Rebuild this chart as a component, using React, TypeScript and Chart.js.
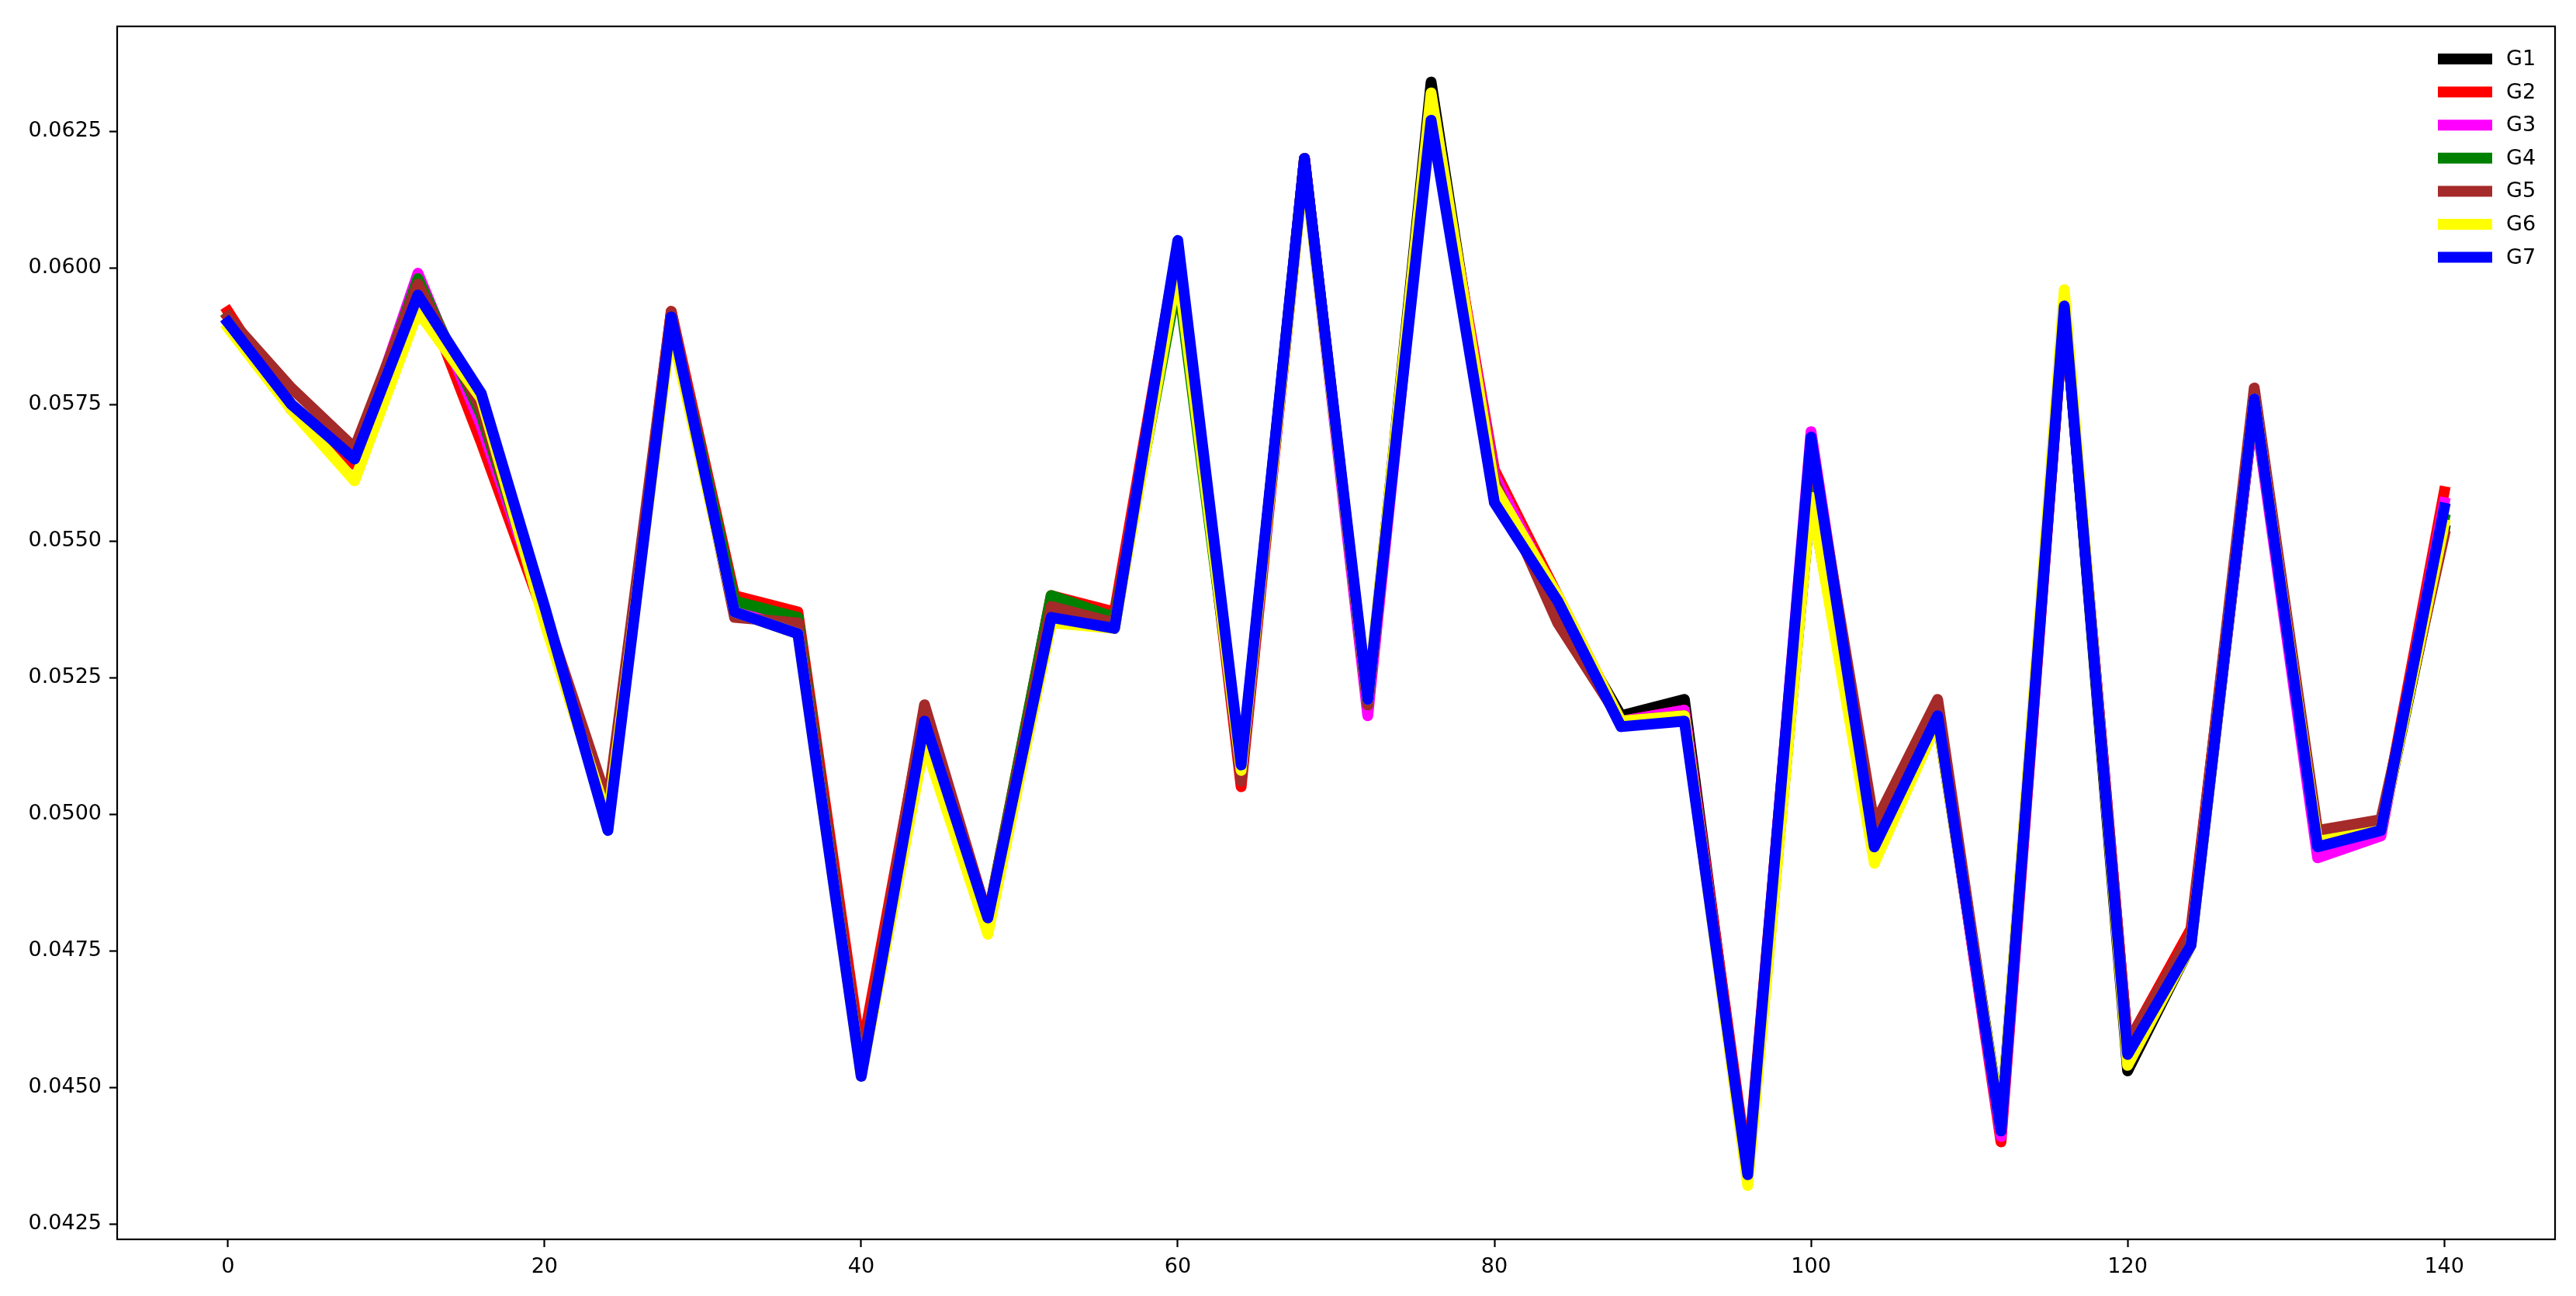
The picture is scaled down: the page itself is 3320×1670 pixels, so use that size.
import React, { useEffect, useRef } from "react";
import { Chart, registerables } from "chart.js";

Chart.register(...registerables);

const xValues = [0, 4, 8, 12, 16, 20, 24, 28, 32, 36, 40, 44, 48, 52, 56, 60, 64, 68, 72, 76, 80, 84, 88, 92, 96, 100, 104, 108, 112, 116, 120, 124, 128, 132, 136, 140];

const g1 = [0.0590, 0.0575, 0.0564, 0.0596, 0.0575, 0.0537, 0.0499, 0.0591, 0.0537, 0.0534, 0.0453, 0.0516, 0.0480, 0.0536, 0.0534, 0.0603, 0.0508, 0.0620, 0.0520, 0.0634, 0.0559, 0.0538, 0.0518, 0.0521, 0.0433, 0.0558, 0.0493, 0.0517, 0.0443, 0.0594, 0.0453, 0.0476, 0.0575, 0.0495, 0.0497, 0.0552];
const g2 = [0.0592, 0.0574, 0.0564, 0.0598, 0.0568, 0.0536, 0.0500, 0.0592, 0.0540, 0.0537, 0.0456, 0.0519, 0.0481, 0.0540, 0.0537, 0.0604, 0.0505, 0.0620, 0.0520, 0.0630, 0.0563, 0.0540, 0.0517, 0.0519, 0.0435, 0.0568, 0.0495, 0.0519, 0.0440, 0.0593, 0.0458, 0.0479, 0.0576, 0.0494, 0.0497, 0.0559];
const g3 = [0.0590, 0.0575, 0.0565, 0.0599, 0.0571, 0.0537, 0.0499, 0.0591, 0.0537, 0.0534, 0.0453, 0.0517, 0.0481, 0.0537, 0.0535, 0.0604, 0.0507, 0.0620, 0.0518, 0.0630, 0.0562, 0.0539, 0.0517, 0.0519, 0.0433, 0.0570, 0.0494, 0.0518, 0.0441, 0.0593, 0.0458, 0.0477, 0.0575, 0.0492, 0.0496, 0.0557];
const g4 = [0.0591, 0.0575, 0.0565, 0.0598, 0.0573, 0.0537, 0.0500, 0.0591, 0.0539, 0.0536, 0.0453, 0.0517, 0.0481, 0.0540, 0.0536, 0.0598, 0.0508, 0.0620, 0.0520, 0.0630, 0.0559, 0.0539, 0.0517, 0.0518, 0.0433, 0.0566, 0.0494, 0.0519, 0.0443, 0.0593, 0.0456, 0.0477, 0.0576, 0.0495, 0.0497, 0.0554];
const g5 = [0.0591, 0.0578, 0.0567, 0.0597, 0.0574, 0.0537, 0.0502, 0.0592, 0.0536, 0.0535, 0.0453, 0.0520, 0.0481, 0.0538, 0.0535, 0.0604, 0.0506, 0.0620, 0.0520, 0.0630, 0.0561, 0.0535, 0.0517, 0.0518, 0.0434, 0.0568, 0.0498, 0.0521, 0.0442, 0.0593, 0.0458, 0.0478, 0.0578, 0.0497, 0.0499, 0.0551];
const g6 = [0.0589, 0.0574, 0.0561, 0.0592, 0.0576, 0.0535, 0.0499, 0.0589, 0.0537, 0.0533, 0.0452, 0.0513, 0.0478, 0.0535, 0.0534, 0.0600, 0.0508, 0.0619, 0.0521, 0.0632, 0.0560, 0.0540, 0.0517, 0.0518, 0.0432, 0.0558, 0.0491, 0.0517, 0.0443, 0.0596, 0.0454, 0.0476, 0.0576, 0.0495, 0.0497, 0.0553];
const g7 = [0.0590, 0.0575, 0.0565, 0.0595, 0.0577, 0.0538, 0.0497, 0.0591, 0.0537, 0.0533, 0.0452, 0.0517, 0.0481, 0.0536, 0.0534, 0.0605, 0.0509, 0.0620, 0.0521, 0.0627, 0.0557, 0.0539, 0.0516, 0.0517, 0.0434, 0.0569, 0.0494, 0.0518, 0.0442, 0.0593, 0.0456, 0.0476, 0.0576, 0.0494, 0.0497, 0.0556];

const seriesNames = ["G1", "G2", "G3", "G4", "G5", "G6", "G7"];
const seriesValues = [g1, g2, g3, g4, g5, g6, g7];
const seriesColors = ["#000000", "#ff0000", "#ff00ff", "#008000", "#a52a2a", "#ffff00", "#0000ff"];

const xTicks = [0, 20, 40, 60, 80, 100, 120, 140];
const yTicks = [0.0425, 0.045, 0.0475, 0.05, 0.0525, 0.055, 0.0575, 0.06, 0.0625];

const X_MIN = -7;
const X_MAX = 147;
const Y_MIN = 0.042216;
const Y_MAX = 0.064418;

const FONT = "DejaVu Sans";
const FONT_SIZE = 27;

const framePlugin = {
  id: "frameAndLegend",
  afterDraw(chart: any) {
    const ctx = chart.ctx;
    const a = chart.chartArea;
    ctx.save();
    ctx.strokeStyle = "#000";
    ctx.lineWidth = 2.2;
    ctx.strokeRect(a.left, a.top, a.right - a.left, a.bottom - a.top);
    const ds = chart.data.datasets;
    ctx.font = `${FONT_SIZE}px "${FONT}"`;
    ctx.textBaseline = "middle";
    ctx.textAlign = "left";
    for (let i = 0; i < ds.length; i++) {
      const y = a.top + 42 + i * 42.6;
      ctx.strokeStyle = ds[i].borderColor;
      ctx.lineWidth = 14;
      ctx.lineCap = "butt";
      ctx.beginPath();
      ctx.moveTo(a.right - 151, y);
      ctx.lineTo(a.right - 81, y);
      ctx.stroke();
      ctx.fillStyle = "#000";
      ctx.fillText(ds[i].label, a.right - 63, y + 1);
    }
    ctx.restore();
  },
};

export default function App() {
  const ref = useRef<HTMLCanvasElement | null>(null);
  useEffect(() => {
    document.body.style.margin = "0";
    const canvas = ref.current;
    if (!canvas) return;
    const datasets = seriesNames.map((name, i) => ({
      label: name,
      data: xValues.map((x, j) => ({ x, y: seriesValues[i][j] })),
      borderColor: seriesColors[i],
      backgroundColor: seriesColors[i],
      borderWidth: 14,
      borderJoinStyle: "round" as const,
      borderCapStyle: "square" as const,
      pointRadius: 0,
      fill: false,
      tension: 0,
      order: seriesNames.length - 1 - i,
    }));
    const chart = new Chart(canvas, {
      type: "line",
      data: { datasets },
      options: {
        animation: false,
        responsive: false,
        devicePixelRatio: 1,
        layout: { padding: { left: 0, top: 34, right: 27, bottom: 0 } },
        plugins: { legend: { display: false }, tooltip: { enabled: false } },
        scales: {
          x: {
            type: "linear",
            min: X_MIN,
            max: X_MAX,
            afterBuildTicks: (s: any) => {
              s.ticks = xTicks.map((v) => ({ value: v }));
            },
            afterFit: (s: any) => {
              s.height = 73;
            },
            grid: { display: true, drawOnChartArea: false, drawTicks: true, tickLength: 10, tickWidth: 2.2, tickColor: "#000" },
            border: { display: false },
            ticks: {
              color: "#000",
              font: { family: FONT, size: FONT_SIZE },
              padding: 10,
              maxRotation: 0,
              autoSkip: false,
              callback: (v: any) => String(v),
            },
          },
          y: {
            type: "linear",
            min: Y_MIN,
            max: Y_MAX,
            afterBuildTicks: (s: any) => {
              s.ticks = yTicks.map((v) => ({ value: v }));
            },
            afterFit: (s: any) => {
              s.width = 151;
            },
            grid: { display: true, drawOnChartArea: false, drawTicks: true, tickLength: 10, tickWidth: 2.2, tickColor: "#000" },
            border: { display: false },
            ticks: {
              color: "#000",
              font: { family: FONT, size: FONT_SIZE },
              padding: 10,
              autoSkip: false,
              callback: (v: any) => Number(v).toFixed(4),
            },
          },
        },
      },
      plugins: [framePlugin],
    } as any);
    return () => chart.destroy();
  }, []);
  return (
    <div style={{ width: 3320, height: 1670, background: "#fff" }}>
      <canvas ref={ref} width={3320} height={1670} style={{ display: "block" }} />
    </div>
  );
}
